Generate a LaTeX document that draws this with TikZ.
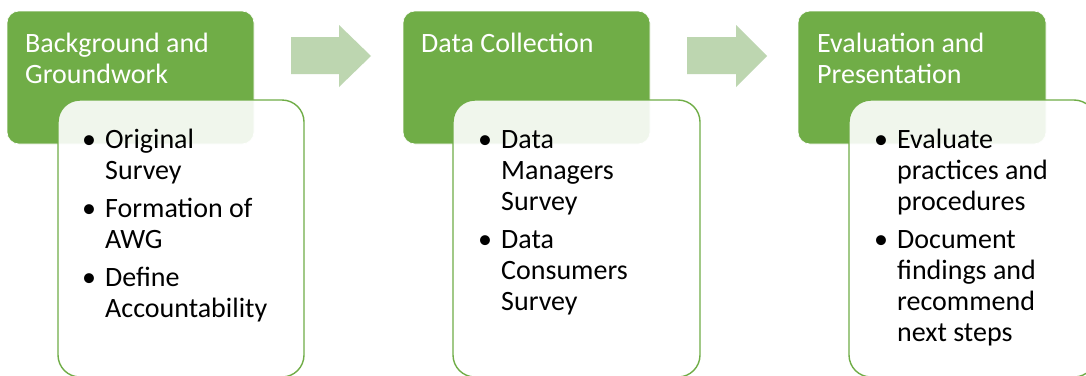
\documentclass[tikz,border=0pt]{standalone}
\usepackage{fontspec}
\setmainfont{Carlito}
\begin{document}
\begin{tikzpicture}[x=1pt,y=-1pt,
  hdrbox/.style={fill=hdrgreen,draw=white,line width=0.6pt,rounded corners=12pt},
  bodybox/.style={fill=white,fill opacity=0.9,draw=hdrgreen,line width=1.4pt,rounded corners=22pt},
  flowarrow/.style={fill=arrowgreen,draw=none},
  hdrtext/.style={anchor=base west,inner sep=0pt,text=white,font=\fontsize{28}{31}\selectfont},
  bodytext/.style={anchor=base west,inner sep=0pt,text=black,font=\fontsize{28}{31}\selectfont},
  dot/.style={anchor=base,inner sep=0pt,text=black,font=\fontsize{28}{31}\selectfont}]
\definecolor{hdrgreen}{HTML}{70AD47}
\definecolor{arrowgreen}{HTML}{BDD6B0}
\useasboundingbox (0,0) rectangle (1086,375);
\fill[white] (0,0) rectangle (1086,375);

% stage boxes: coloured header with a lighter detail card over its lower part
\draw[hdrbox] (7,11) rectangle (254,144);
\draw[bodybox] (58,100) rectangle (304,377);
\draw[hdrbox] (403,11) rectangle (650,144);
\draw[bodybox] (453,100) rectangle (700,377);
\draw[hdrbox] (798,11) rectangle (1046,144);
\draw[bodybox] (849,100) rectangle (1096,377);

% block arrows between the stages
\fill[flowarrow] (291,37) -- (339,37) -- (339,25) -- (371,56) -- (339,87) -- (339,74) -- (291,74) -- cycle;
\fill[flowarrow] (687,37) -- (736,37) -- (736,25) -- (767,56) -- (736,87) -- (736,74) -- (687,74) -- cycle;

% stage 1
\node[hdrtext] (h1a) at (25,52) {Background and};
\node[hdrtext] (h1b) at (25,83) {Groundwork};
\node[dot] (d1a) at (89,148) {•};
\node[bodytext] (t1a) at (105,148) {Original};
\node[bodytext] (t1b) at (105,179) {Survey};
\node[dot] (d1b) at (89,217) {•};
\node[bodytext] (t1c) at (105,217) {Formation of};
\node[bodytext] (t1d) at (105,248) {AWG};
\node[dot] (d1c) at (89,286) {•};
\node[bodytext] (t1e) at (105,286) {Define};
\node[bodytext] (t1f) at (105,317) {Accountability};

% stage 2
\node[hdrtext] (h2a) at (421,52) {Data Collection};
\node[dot] (d2a) at (485,148) {•};
\node[bodytext] (t2a) at (501,148) {Data};
\node[bodytext] (t2b) at (501,179) {Managers};
\node[bodytext] (t2c) at (501,210) {Survey};
\node[dot] (d2b) at (485,248) {•};
\node[bodytext] (t2d) at (501,248) {Data};
\node[bodytext] (t2e) at (501,279) {Consumers};
\node[bodytext] (t2f) at (501,310) {Survey};

% stage 3
\node[hdrtext] (h3a) at (817,52) {Evaluation and};
\node[hdrtext] (h3b) at (817,83) {Presentation};
\node[dot] (d3a) at (881,148) {•};
\node[bodytext] (t3a) at (897,148) {Evaluate};
\node[bodytext] (t3b) at (897,179) {practices and};
\node[bodytext] (t3c) at (897,210) {procedures};
\node[dot] (d3b) at (881,248) {•};
\node[bodytext] (t3d) at (897,248) {Document};
\node[bodytext] (t3e) at (897,279) {findings and};
\node[bodytext] (t3f) at (897,310) {recommend};
\node[bodytext] (t3g) at (897,341) {next steps};
\end{tikzpicture}
\end{document}
